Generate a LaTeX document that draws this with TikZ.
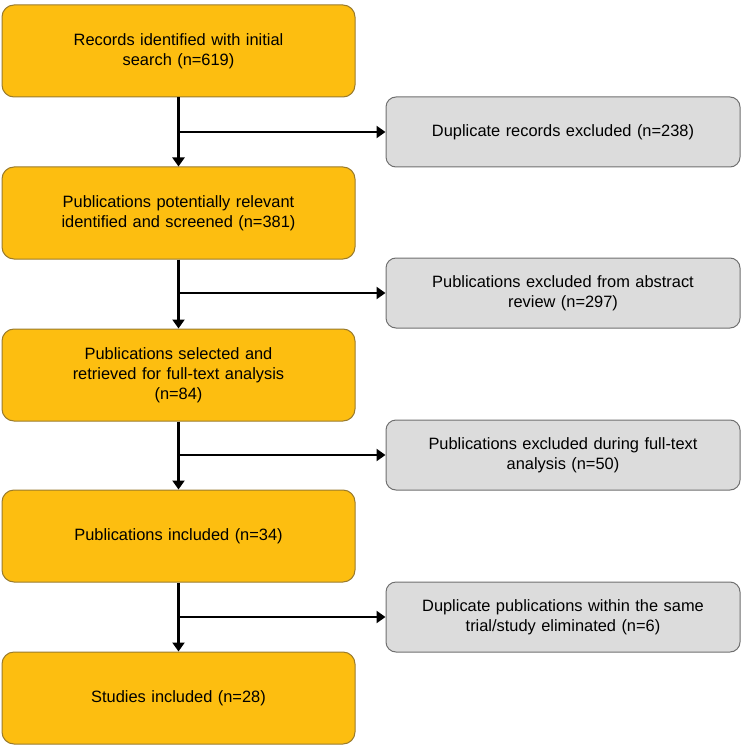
\documentclass[tikz,border=0pt]{standalone}
\usepackage{fontspec}
\setmainfont{Liberation Sans}
\usetikzlibrary{arrows.meta}
\definecolor{ofill}{HTML}{FDBE10}
\definecolor{oline}{HTML}{9A7B2C}
\definecolor{gfill}{HTML}{DCDCDC}
\definecolor{gline}{HTML}{707070}
\begin{document}
\begin{tikzpicture}[x=1pt,y=-1pt,
  obox/.style={draw=oline,fill=ofill,line width=1pt,rounded corners=12pt,minimum width=353pt,minimum height=92pt,text width=330pt,align=center,inner sep=0pt,font=\fontsize{16.4}{20}\selectfont},
  gbox/.style={draw=gline,fill=gfill,line width=1pt,rounded corners=10pt,minimum width=354pt,minimum height=70pt,text width=340pt,align=center,inner sep=0pt,font=\fontsize{16.4}{20}\selectfont},
  conn/.style={line width=2.4pt,-{Triangle[length=9pt,width=12pt]}}]
\useasboundingbox (0,0) rectangle (743,754);
\node[obox] (o1) at (178.5,51) {Records identified with initial\\search (n=619)};
\node[obox] (o2) at (178.5,213) {Publications potentially relevant\\identified and screened (n=381)};
\node[obox] (o3) at (178.5,375) {Publications selected and\\retrieved for full-text analysis\\(n=84)};
\node[obox] (o4) at (178.5,536) {Publications included (n=34)};
\node[obox] (o5) at (178.5,698) {Studies included (n=28)};
\node[gbox] (g1) at (563,132) {Duplicate records excluded (n=238)};
\node[gbox] (g2) at (563,293) {Publications excluded from abstract\\review (n=297)};
\node[gbox] (g3) at (563,455) {Publications excluded during full-text\\analysis (n=50)};
\node[gbox] (g4) at (563,617) {Duplicate publications within the same\\trial/study eliminated (n=6)};
\foreach \a/\b/\g in {o1/o2/g1,o2/o3/g2,o3/o4/g3,o4/o5/g4}{
  \draw[conn] (\a.south) -- (\b.north);
  \coordinate (j\g) at (\a.south |- \g.west);
  \draw[conn] ([xshift=-1.2pt]j\g) -- (\g.west);
}
\end{tikzpicture}
\end{document}
